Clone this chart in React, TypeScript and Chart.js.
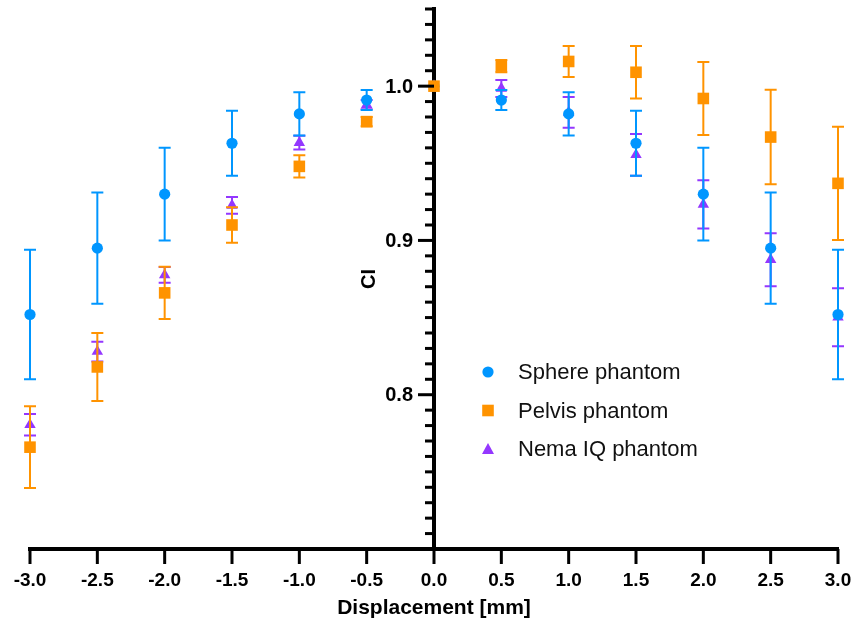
import React, { useEffect, useRef } from 'react';
import { Chart, registerables } from 'chart.js';

Chart.register(...registerables);

// ---- data ----
const displacement = [-3, -2.5, -2, -1.5, -1, -0.5, 0, 0.5, 1, 1.5, 2, 2.5, 3];

const sphereCI = [0.852, 0.895, 0.930, 0.963, 0.982, 0.991, 1.0, 0.991, 0.982, 0.963, 0.930, 0.895, 0.852];
const sphereErr = [0.042, 0.036, 0.030, 0.021, 0.014, 0.0065, 0, 0.0065, 0.014, 0.021, 0.030, 0.036, 0.042];

const pelvisCI = [0.766, 0.818, 0.866, 0.910, 0.948, 0.977, 1.0, 1.013, 1.016, 1.009, 0.992, 0.967, 0.937];
const pelvisErr = [0.0265, 0.022, 0.017, 0.0115, 0.0072, 0.003, 0, 0.004, 0.010, 0.017, 0.0237, 0.0306, 0.0367];

const nemaCI = [0.7805, 0.828, 0.8776, 0.9227, 0.9634, 0.988, 1.0, 0.9985, 0.983, 0.9555, 0.9234, 0.8875, 0.8502];
const nemaErr = [0.007, 0.0064, 0.0051, 0.0054, 0.0044, 0.003, 0, 0.0055, 0.010, 0.0135, 0.0156, 0.0172, 0.0188];

const seriesNames = ['Sphere phantom', 'Pelvis phantom', 'Nema IQ phantom'];
const seriesColors = ['#0096FF', '#FF9300', '#9437FF'];
const seriesStyles = ['circle', 'rect', 'triangle'];

const xMin = -3;
const xMax = 3;
const xTickStep = 0.5;
const yMin = 0.7;
const yMax = 1.05;
const yMinorStep = 0.01;
const yLabeledTicks = [0.8, 0.9, 1.0];

const xTitle = 'Displacement [mm]';
const yTitle = 'CI';

const FONT = '"Liberation Sans", Arial, Helvetica, sans-serif';

const isLabeled = (v: number) => yLabeledTicks.some((m) => Math.abs(m - v) < 1e-6);

const errorBarPlugin = {
  id: 'errorBars',
  beforeDatasetDraw(chart: any, args: any) {
    const ds = chart.data.datasets[args.index];
    const errs: number[] = ds.errors;
    if (!errs) return;
    const xs = chart.scales.x;
    const ys = chart.scales.y;
    const ctx = chart.ctx;
    ctx.save();
    ctx.strokeStyle = ds.backgroundColor;
    ctx.lineWidth = 2;
    ds.data.forEach((pt: any, i: number) => {
      const e = errs[i];
      if (!e) return;
      const x = xs.getPixelForValue(pt.x);
      const y1 = ys.getPixelForValue(pt.y + e);
      const y2 = ys.getPixelForValue(pt.y - e);
      ctx.beginPath();
      ctx.moveTo(x, y1);
      ctx.lineTo(x, y2);
      ctx.moveTo(x - 6, y1);
      ctx.lineTo(x + 6, y1);
      ctx.moveTo(x - 6, y2);
      ctx.lineTo(x + 6, y2);
      ctx.stroke();
    });
    ctx.restore();
  },
};

const decorPlugin = {
  id: 'decor',
  afterDraw(chart: any) {
    const ctx = chart.ctx;
    const xs = chart.scales.x;
    const ys = chart.scales.y;
    const axisX = xs.getPixelForValue(0);
    const axisY = ys.getPixelForValue(yMin);

    // x axis tick marks
    ctx.save();
    ctx.strokeStyle = '#000';
    ctx.lineWidth = 3;
    xs.ticks.forEach((t: any) => {
      const x = xs.getPixelForValue(t.value);
      ctx.beginPath();
      ctx.moveTo(x, axisY);
      ctx.lineTo(x, axisY + 15);
      ctx.stroke();
    });
    ctx.restore();

    // y axis ticks and labels
    ctx.save();
    ctx.strokeStyle = '#000';
    ctx.fillStyle = '#000';
    ctx.lineWidth = 3;
    ctx.font = `bold 20px ${FONT}`;
    ctx.textAlign = 'right';
    ctx.textBaseline = 'middle';
    const n = Math.round((yMax - yMin) / yMinorStep);
    for (let k = 1; k <= n; k++) {
      const v = Math.round((yMin + k * yMinorStep) * 1000) / 1000;
      const y = ys.getPixelForValue(v);
      const major = isLabeled(v);
      ctx.beginPath();
      ctx.moveTo(axisX - (major ? 16 : 9), y);
      ctx.lineTo(axisX, y);
      ctx.stroke();
      if (major) ctx.fillText(v.toFixed(1), axisX - 21, y + 1);
    }
    ctx.restore();

    // y axis title
    ctx.save();
    ctx.translate(axisX - 65, (ys.top + ys.bottom) / 2);
    ctx.rotate(-Math.PI / 2);
    ctx.font = `bold 20px ${FONT}`;
    ctx.fillStyle = '#000';
    ctx.textAlign = 'center';
    ctx.textBaseline = 'middle';
    ctx.fillText(yTitle, 0, 0);
    ctx.restore();

    // legend
    const area = chart.chartArea;
    const markerX = axisX + 54;
    const textX = axisX + 84;
    const rowY = [area.top + 363, area.top + 401.5, area.top + 440];
    ctx.save();
    seriesNames.forEach((name, i) => {
      const y = rowY[i];
      ctx.fillStyle = seriesColors[i];
      ctx.beginPath();
      if (seriesStyles[i] === 'circle') {
        ctx.arc(markerX, y, 5.6, 0, Math.PI * 2);
      } else if (seriesStyles[i] === 'rect') {
        ctx.rect(markerX - 5.8, y - 5.8, 11.6, 11.6);
      } else {
        ctx.moveTo(markerX, y - 6);
        ctx.lineTo(markerX + 6, y + 5);
        ctx.lineTo(markerX - 6, y + 5);
        ctx.closePath();
      }
      ctx.fill();
      ctx.fillStyle = '#111';
      ctx.font = `22px ${FONT}`;
      ctx.textAlign = 'left';
      ctx.textBaseline = 'middle';
      ctx.fillText(name, textX, y + 1);
    });
    ctx.restore();
  },
};

export default function App() {
  const ref = useRef<HTMLCanvasElement>(null);

  useEffect(() => {
    if (!ref.current) return;
    Chart.defaults.font.family = FONT;
    const mk = (vals: number[]) => displacement.map((x, i) => ({ x, y: vals[i] }));
    const chart = new Chart(ref.current, {
      type: 'scatter',
      data: {
        datasets: [
          {
            label: seriesNames[0],
            data: mk(sphereCI),
            errors: sphereErr,
            backgroundColor: seriesColors[0],
            borderColor: seriesColors[0],
            pointStyle: 'circle',
            pointRadius: 5.6,
            borderWidth: 0,
            order: 1,
            clip: false,
          } as any,
          {
            label: seriesNames[1],
            data: mk(pelvisCI),
            errors: pelvisErr,
            backgroundColor: seriesColors[1],
            borderColor: seriesColors[1],
            pointStyle: 'rect',
            pointRadius: 8.2,
            borderWidth: 0,
            order: 0,
            clip: false,
          } as any,
          {
            label: seriesNames[2],
            data: mk(nemaCI),
            errors: nemaErr,
            backgroundColor: seriesColors[2],
            borderColor: seriesColors[2],
            pointStyle: 'triangle',
            pointRadius: 6.6,
            borderWidth: 0,
            order: 2,
            clip: false,
          } as any,
        ],
      },
      options: {
        animation: false,
        responsive: true,
        maintainAspectRatio: false,
        layout: { padding: { left: 30, right: 17, top: 9, bottom: 0 } },
        plugins: {
          legend: { display: false },
          tooltip: { enabled: false },
        },
        scales: {
          x: {
            type: 'linear',
            position: 'bottom',
            min: xMin,
            max: xMax,
            ticks: {
              stepSize: xTickStep,
              autoSkip: false,
              maxRotation: 0,
              padding: 3,
              color: '#000',
              font: { size: 19, weight: 'bold', family: FONT },
              callback: (v: any) => Number(v).toFixed(1),
            },
            grid: {
              display: true,
              drawOnChartArea: false,
              drawTicks: true,
              tickLength: 17,
              tickWidth: 3,
              tickColor: 'rgba(0,0,0,0)',
            },
            border: { display: true, color: '#000', width: 4 },
            title: {
              display: true,
              text: xTitle,
              color: '#000',
              font: { size: 21, weight: 'bold', family: FONT },
              padding: { top: 1, bottom: 5 },
            },
          },
          y: {
            type: 'linear',
            position: { x: 0 } as any,
            min: yMin,
            max: yMax,
            ticks: { display: false },
            grid: { display: false, drawOnChartArea: false, drawTicks: false },
            border: { display: true, color: '#000', width: 4 },
          },
        },
      },
      plugins: [errorBarPlugin, decorPlugin],
    } as any);
    return () => chart.destroy();
  }, []);

  return (
    <div style={{ position: 'absolute', left: 0, top: 0, width: 855, height: 626, background: '#fff' }}>
      <canvas ref={ref} />
    </div>
  );
}
